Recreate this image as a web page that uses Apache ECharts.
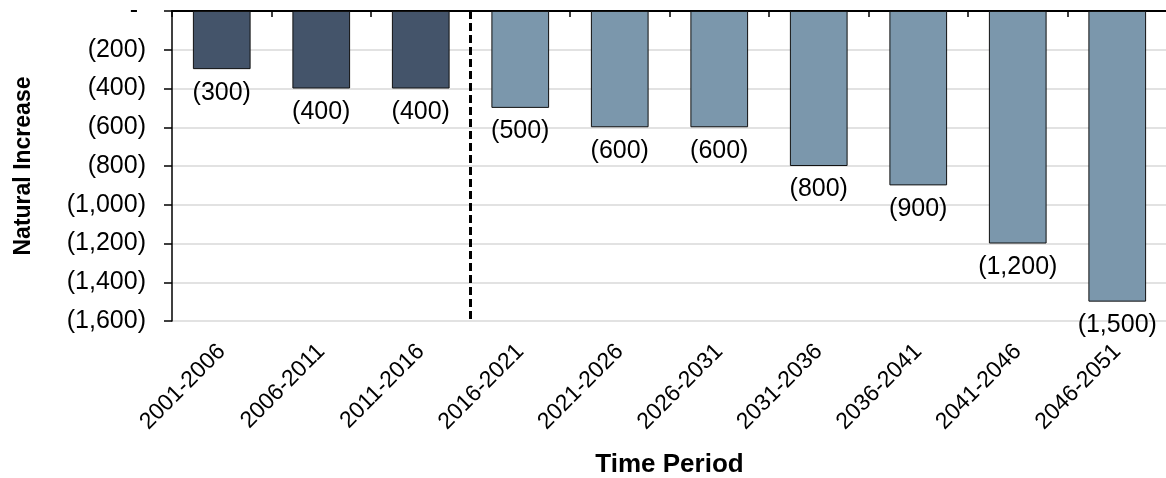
<!DOCTYPE html>
<html>
<head>
<meta charset="utf-8">
<script src="https://cdn.jsdelivr.net/npm/echarts@6/dist/echarts.min.js"></script>
<style>
  html, body { margin: 0; padding: 0; background: #fff; }
  #chart { width: 1166px; height: 478px; }
</style>
</head>
<body>
<div id="chart"></div>
<script>
// Natural increase per five-year period: historical vs projected
const periods = ['2001-2006', '2006-2011', '2011-2016', '2016-2021', '2021-2026',
                 '2026-2031', '2031-2036', '2036-2041', '2041-2046', '2046-2051'];
const historical = [-300, -400, -400];
const projected = [-500, -600, -600, -800, -900, -1200, -1500];
const yTicks = { min: -1600, max: 0, step: 200 };

const FONT = '"Liberation Sans", Arial, sans-serif';
const HIST_COLOR = '#44546A';
const PROJ_COLOR = '#7B97AC';

function accounting(v) {
  if (v === 0) return '{z|-}';
  return '(' + Math.abs(v).toLocaleString('en-US') + ')';
}

const barData = historical.map(v => ({ value: v, itemStyle: { color: HIST_COLOR } }))
  .concat(projected.map(v => ({ value: v, itemStyle: { color: PROJ_COLOR } })));

// Divider sits on the boundary between the last historical and first projected period
const dividerX = historical.length;

const chart = echarts.init(document.getElementById('chart'), null, { renderer: 'canvas' });
chart.setOption({
  animation: false,
  backgroundColor: '#fff',
  grid: {
    left: 172, top: 11, width: 995, height: 310,
    containLabel: false, outerBoundsMode: 'none'
  },
  xAxis: [
    {
      // zero line along the top with boundary ticks
      type: 'category', data: periods, position: 'top',
      axisLine: { show: true, onZero: false, lineStyle: { color: '#000', width: 2 } },
      axisTick: { show: true, inside: true, length: 6, lineStyle: { color: '#000', width: 1.5 } },
      axisLabel: { show: false }, splitLine: { show: false }
    },
    {
      // period labels underneath the plot
      type: 'category', data: periods, position: 'bottom',
      axisLine: { show: false }, axisTick: { show: false }, splitLine: { show: false },
      axisLabel: {
        rotate: 45, margin: 27, color: '#000', fontSize: 23, fontFamily: FONT
      },
      name: 'Time Period', nameLocation: 'middle', nameGap: 131,
      nameTextStyle: { color: '#000', fontSize: 26, fontWeight: 'bold', fontFamily: FONT }
    },
    {
      type: 'value', min: 0, max: periods.length, show: false
    }
  ],
  yAxis: {
    type: 'value', min: yTicks.min, max: yTicks.max, interval: yTicks.step,
    axisLine: { show: true, lineStyle: { color: '#000', width: 1.5 } },
    axisTick: { show: true, length: 8, lineStyle: { color: '#000', width: 1.5 } },
    splitLine: { show: true, lineStyle: { color: '#d9d9d9', width: 1.5 } },
    axisLabel: {
      margin: 26, color: '#000', fontSize: 25, fontFamily: FONT,
      formatter: accounting,
      rich: { z: { fontSize: 25, fontFamily: FONT, color: '#000', padding: [0, 8, 0, 0] } }
    },
    name: 'Natural Increase', nameLocation: 'middle', nameGap: 137, nameRotate: 90,
    nameTextStyle: { color: '#000', fontSize: 23, fontWeight: 'bold', fontFamily: FONT }
  },
  series: [
    {
      type: 'bar', xAxisIndex: 0, data: barData, barWidth: '58%',
      itemStyle: { borderColor: '#111', borderWidth: 1 },
      label: {
        show: true, position: 'bottom', distance: 11, color: '#000',
        fontSize: 25, fontFamily: FONT,
        formatter: p => accounting(p.value)
      }
    },
    {
      type: 'line', xAxisIndex: 2, symbol: 'none', silent: true, z: 5,
      data: [[dividerX, yTicks.max], [dividerX, yTicks.min]],
      lineStyle: { color: '#000', width: 3, type: [8, 4] }
    }
  ]
});
</script>
</body>
</html>
